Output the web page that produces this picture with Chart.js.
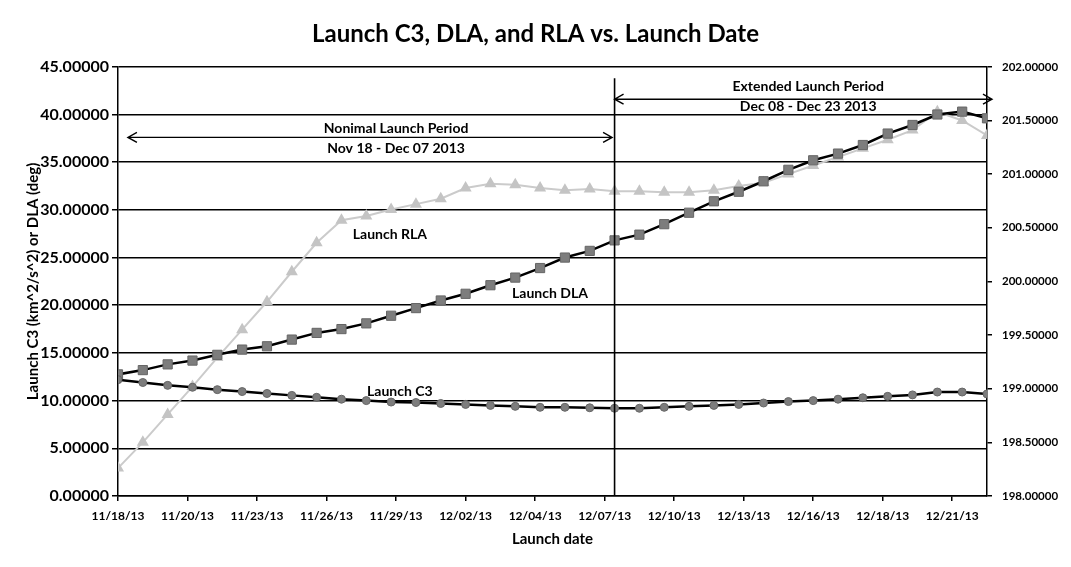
<!DOCTYPE html>
<html>
<head>
<meta charset="utf-8">
<script src="https://cdn.jsdelivr.net/npm/chart.js@4.4.0/dist/chart.umd.min.js"></script>
<style>
  html, body { margin: 0; padding: 0; background: #fff; }
  #wrap { width: 1071px; height: 567px; }
</style>
</head>
<body>
<div id="wrap"><canvas id="chart" width="1071" height="567"></canvas></div>
<script>
// launch dates, one per day
const launchDates = [
  '11/18/13', '11/19/13', '11/20/13', '11/21/13', '11/22/13', '11/23/13',
  '11/24/13', '11/25/13', '11/26/13', '11/27/13', '11/28/13', '11/29/13',
  '11/30/13', '12/01/13', '12/02/13', '12/03/13', '12/04/13', '12/05/13',
  '12/06/13', '12/07/13', '12/08/13', '12/09/13', '12/10/13', '12/11/13',
  '12/12/13', '12/13/13', '12/14/13', '12/15/13', '12/16/13', '12/17/13',
  '12/18/13', '12/19/13', '12/20/13', '12/21/13', '12/22/13', '12/23/13'
];

// km^2/s^2
const launchC3 = [
  12.2, 11.9, 11.6, 11.4, 11.15, 10.95, 10.75, 10.55, 10.35, 10.15, 10.0, 9.85,
  9.8, 9.7, 9.6, 9.5, 9.4, 9.3, 9.3, 9.25, 9.2, 9.2, 9.3, 9.4,
  9.5, 9.6, 9.75, 9.9, 10.0, 10.15, 10.3, 10.45, 10.6, 10.9, 10.9, 10.7
];

// deg (left axis)
const launchDLA = [
  12.75, 13.2, 13.8, 14.2, 14.8, 15.35, 15.7, 16.4, 17.1, 17.5, 18.1, 18.9,
  19.7, 20.5, 21.2, 22.1, 22.9, 23.9, 25.0, 25.7, 26.8, 27.4, 28.5, 29.7,
  30.9, 31.9, 33.0, 34.2, 35.2, 35.9, 36.8, 38.0, 38.9, 40.0, 40.3, 39.6
];

// deg (right axis)
const launchRLA = [
  198.26, 198.50, 198.76, 199.02, 199.29, 199.55, 199.81, 200.09, 200.36, 200.57, 200.61, 200.67,
  200.72, 200.77, 200.87, 200.91, 200.90, 200.87, 200.85, 200.86, 200.84, 200.84, 200.83, 200.83,
  200.85, 200.89, 200.92, 201.00, 201.08, 201.16, 201.24, 201.32, 201.41, 201.58, 201.50, 201.36
];

const xTickLabels = [
  '11/18/13', '11/20/13', '11/23/13', '11/26/13', '11/29/13', '12/02/13', '12/04/13',
  '12/07/13', '12/10/13', '12/13/13', '12/16/13', '12/18/13', '12/21/13'
];

// launch periods (x in days from first date, y on left axis)
const periods = [
  { title: 'Nonimal Launch Period', range: 'Nov 18 - Dec 07 2013', from: 0.4, to: 19.9, arrowY: 37.6, textX: 11.2, textY1: 38.5, textY2: 36.4 },
  { title: 'Extended Launch Period', range: 'Dec 08 - Dec 23 2013', from: 20.0, to: 35.2, arrowY: 41.6, textX: 27.8, textY1: 42.9, textY2: 40.8 }
];
const splitDay = launchDates.indexOf('12/08/13');

const seriesLabels = [
  { text: 'Launch RLA', x: 10.95, y: 27.4 },
  { text: 'Launch DLA', x: 17.4, y: 21.2 },
  { text: 'Launch C3', x: 11.35, y: 10.95 }
];

const FONT = 'Lato, "Open Sans", sans-serif';

function toPoints(values) {
  return values.map((v, i) => ({ x: i, y: v }));
}

const annotationPlugin = {
  id: 'periodNotes',
  afterDatasetsDraw(chart) {
    const ctx = chart.ctx;
    const xs = chart.scales.x;
    const ys = chart.scales.y;
    const area = chart.chartArea;
    ctx.save();
    ctx.strokeStyle = '#000';
    ctx.fillStyle = '#000';

    // split line between the two periods
    const sx = xs.getPixelForValue(splitDay);
    ctx.lineWidth = 1.6;
    ctx.beginPath();
    ctx.moveTo(sx, ys.getPixelForValue(43.8));
    ctx.lineTo(sx, area.bottom);
    ctx.stroke();

    periods.forEach(p => {
      const x1 = xs.getPixelForValue(p.from);
      const x2 = xs.getPixelForValue(p.to);
      const y = ys.getPixelForValue(p.arrowY);
      ctx.lineWidth = 1.4;
      ctx.beginPath();
      ctx.moveTo(x1, y);
      ctx.lineTo(x2, y);
      ctx.moveTo(x1 + 9, y - 5);
      ctx.lineTo(x1, y);
      ctx.lineTo(x1 + 9, y + 5);
      ctx.moveTo(x2 - 9, y - 5);
      ctx.lineTo(x2, y);
      ctx.lineTo(x2 - 9, y + 5);
      ctx.stroke();

      ctx.font = 'bold 14px ' + FONT;
      ctx.textAlign = 'center';
      ctx.textBaseline = 'middle';
      const tx = xs.getPixelForValue(p.textX);
      ctx.fillText(p.title, tx, ys.getPixelForValue(p.textY1));
      ctx.fillText(p.range, tx, ys.getPixelForValue(p.textY2));
    });

    ctx.font = 'bold 14px ' + FONT;
    ctx.textAlign = 'center';
    ctx.textBaseline = 'middle';
    seriesLabels.forEach(l => {
      ctx.fillText(l.text, xs.getPixelForValue(l.x), ys.getPixelForValue(l.y));
    });
    ctx.restore();
  }
};

new Chart(document.getElementById('chart'), {
  type: 'line',
  data: {
    datasets: [
      {
        label: 'Launch C3',
        data: toPoints(launchC3),
        yAxisID: 'y',
        borderColor: '#000',
        borderWidth: 2.5,
        pointStyle: 'circle',
        pointRadius: 4,
        pointBackgroundColor: '#7d7d7d',
        pointBorderColor: '#666',
        pointBorderWidth: 1,
        order: 1
      },
      {
        label: 'Launch DLA',
        data: toPoints(launchDLA),
        yAxisID: 'y',
        borderColor: '#000',
        borderWidth: 2.5,
        pointStyle: 'rect',
        pointRadius: 6.5,
        pointBackgroundColor: '#7d7d7d',
        pointBorderColor: '#666',
        pointBorderWidth: 1,
        order: 2
      },
      {
        label: 'Launch RLA',
        data: toPoints(launchRLA),
        yAxisID: 'y2',
        borderColor: '#cbcbcb',
        borderWidth: 2,
        pointStyle: 'triangle',
        pointRadius: 5,
        pointBackgroundColor: '#c4c4c4',
        pointBorderColor: '#c4c4c4',
        order: 3
      }
    ]
  },
  options: {
    responsive: false,
    animation: false,
    devicePixelRatio: 1,
    layout: { padding: 0 },
    plugins: {
      legend: { display: false },
      tooltip: { enabled: false },
      title: {
        display: true,
        text: 'Launch C3, DLA, and RLA vs. Launch Date',
        color: '#000',
        font: { family: FONT, size: 24, weight: 'bold' },
        padding: { top: 20, bottom: 18 }
      }
    },
    scales: {
      x: {
        type: 'linear',
        min: 0,
        max: 35,
        afterFit: s => { s.height = 71; },
        grid: { display: true, drawOnChartArea: false, drawTicks: true, tickLength: 5, color: '#000', lineWidth: 1.5 },
        border: { display: true, color: '#000', width: 1.5 },
        ticks: {
          stepSize: 2.8,
          includeBounds: false,
          autoSkip: false,
          maxRotation: 0,
          padding: 8,
          color: '#000',
          font: { family: FONT, size: 12, weight: 'bold' },
          callback: (v, i) => xTickLabels[i] ?? ''
        },
        title: {
          display: true,
          text: 'Launch date',
          color: '#000',
          font: { family: FONT, size: 15, weight: 'bold' },
          padding: { top: 0, bottom: 19 }
        }
      },
      y: {
        position: 'left',
        min: 0,
        max: 45,
        afterFit: s => { s.width = 118; },
        grid: { color: '#000', lineWidth: 1.5, tickLength: 6 },
        border: { display: true, color: '#000', width: 1.5 },
        ticks: {
          stepSize: 5,
          padding: 3,
          color: '#000',
          font: { family: FONT, size: 16, weight: 'bold' },
          callback: v => v.toFixed(5)
        },
        title: {
          display: true,
          text: 'Launch C3 (km^2/s^2) or DLA (deg)',
          color: '#000',
          font: { family: FONT, size: 15, weight: 'bold' },
          padding: { top: 24, bottom: 0 }
        }
      },
      y2: {
        position: 'right',
        min: 198,
        max: 202,
        afterFit: s => { s.width = 84; },
        grid: { drawOnChartArea: false, color: '#000', lineWidth: 1.5, tickLength: 5 },
        border: { display: true, color: '#000', width: 1.5 },
        ticks: {
          stepSize: 0.5,
          padding: 10,
          color: '#000',
          font: { family: FONT, size: 11.5, weight: 'bold' },
          callback: v => v.toFixed(5)
        }
      }
    }
  },
  plugins: [annotationPlugin]
});
</script>
</body>
</html>
